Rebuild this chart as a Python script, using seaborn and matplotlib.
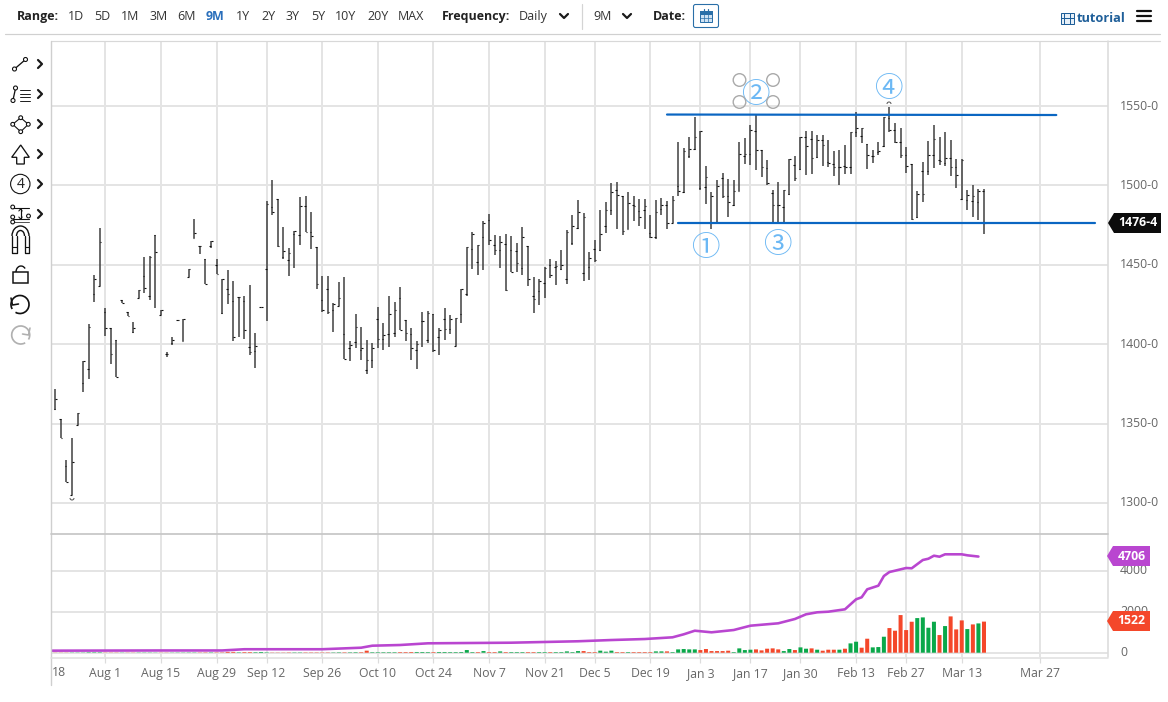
import numpy as np
import pandas as pd
import matplotlib
matplotlib.use("Agg")
import matplotlib.pyplot as plt
from matplotlib.patches import Arc, Circle, Polygon, Rectangle, FancyBboxPatch
import seaborn as sns

# ---------- data (bar 0 is clipped at the left edge) ----------
highs = [1383,
 1371.9,1353.2,1327,1340.9,1356.4,1389.4,1412.5,1443.5,1473.2,1422.8,
 1410.4,1402.8,1427.6,1420,1413.9,1434.3,1454.9,1455.3,1468.5,1421.7,
 1395.4,1404.3,1415,1415.8,1447.3,1478.8,1462,1453.6,1465.2,1453.6,
 1441,1446.9,1439.8,1429.7,1430.1,1437.2,1407,1423.6,1489.9,1503.6,
 1491.4,1473.8,1460.6,1471.5,1492.7,1493.5,1483.2,1461,1442.9,1442.9,
 1425.9,1439.1,1442.3,1401.8,1419,1410.8,1402.8,1400.7,1423.4,1413.3,
 1430.1,1426.5,1436,1415,1410.2,1401.8,1420,1420.6,1419.2,1410.2,
 1422.8,1418.6,1416.5,1434.9,1461.2,1470.6,1462.6,1477.3,1482,1468.5,
 1468.3,1469.6,1468.3,1463.7,1473.8,1462,1442.3,1441,1448.6,1453.6,
 1452.6,1459.5,1471.7,1481.1,1491,1482.6,1458,1465.4,1484.3,1489.3,
 1501.5,1502.1,1493.5,1495.6,1493.1,1491.4,1491.4,1481.1,1490.6,1492,
 1490.4,1493.5,1527,1523.5,1530.4,1543.3,1534.1,1512.4,1495.8,1503.2,
 1507.8,1504.2,1503.6,1527,1529.7,1537.7,1544.4,1522,1516.1,1496.9,
 1502.1,1497.3,1516.6,1518.6,1530.4,1534.3,1534.3,1531.8,1531.8,1528.7,
 1521.4,1522,1525.6,1533.9,1546,1536,1526.2,1522.4,1527,1543.3,
 1549.6,1539.2,1536,1524.1,1513.6,1496.3,1514.7,1528,1538.1,1530.4,
 1533.9,1528.3,1516.6,1516.6,1496.9,1500.4,1497.7,1497.9]
lows = [1382.6,
 1358.7,1340.9,1313.1,1305.2,1349,1370.2,1378.4,1426.3,1436.4,1404.9,
 1387.5,1379.3,1425.9,1417.9,1407,1429,1432,1427.6,1422.5,1418.6,
 1391.9,1399.7,1414.4,1402,1442,1466.9,1456.8,1437.7,1460.6,1444.2,
 1419,1425.5,1401.8,1404.3,1403.2,1393.4,1385.2,1423.2,1414.4,1481.6,
 1461.2,1453.6,1443.1,1447.9,1462.6,1470.4,1459.9,1434.7,1420.2,1419.2,
 1407.4,1423.8,1390.6,1389.2,1397.5,1390.2,1381.2,1385,1397.5,1396.5,
 1398.2,1404.3,1408.7,1402.2,1389.8,1384.7,1398.2,1400.7,1394.8,1393.1,
 1402.8,1406.6,1398.6,1413.3,1430.5,1447.3,1443.8,1446.9,1462.6,1456.3,
 1447.9,1433.5,1445.2,1445.6,1443.8,1436.4,1419.6,1424.4,1429,1441.7,
 1437,1446.5,1438.1,1462.6,1472.5,1439.6,1440.6,1451.7,1458.9,1470,
 1481.1,1472.7,1468.5,1472.5,1477.4,1474.2,1472.5,1466.9,1466.2,1481.6,
 1472.5,1476,1493.5,1495.2,1517.2,1522.4,1497.3,1488.5,1472.6,1476.8,
 1492.1,1479.9,1486.9,1496.3,1513.6,1513,1509.4,1505.3,1500.4,1476.4,
 1476.4,1476.4,1494.2,1502.5,1509.9,1506.7,1507.3,1517.2,1512,1511.5,
 1505.7,1500.4,1507.4,1507.4,1530.4,1526.6,1510.5,1514,1519.3,1524.1,
 1533.9,1526.6,1517.2,1507.8,1478,1479.5,1489.4,1506.7,1510.9,1513,
 1512,1505.7,1498.4,1491,1484.8,1479.9,1478,1469.5]
opens = [1383,
 1359.1,1353.2,1323,1305.2,1349,1375.5,1384.3,1431.6,1436.4,1420,
 1410.4,1402.8,1427.6,1420,1407.4,1429,1443.1,1430.1,1468.5,1418.6,
 1394,1400.7,1415,1402,1442,1466.9,1462,1453.6,1462,1450,
 1419.6,1434.7,1427,1429.7,1427,1398,1395.9,1423.4,1447.3,1486.2,
 1491.4,1454.7,1452.8,1469.4,1468.5,1486.8,1470.4,1461,1428,1434.7,
 1421.7,1424.2,1406.4,1397.5,1401.1,1396.5,1383.5,1389.8,1415.8,1403.4,
 1406.4,1407,1429,1415,1406.4,1396.5,1414.4,1402.8,1419.2,1404.5,
 1416,1409.5,1399,1419.2,1431.8,1459.9,1451.5,1467.5,1478.4,1462.2,
 1459.5,1463.3,1459.5,1458.4,1448,1461.6,1430.5,1433.2,1438.5,1450,
 1448.6,1447.3,1441,1463.7,1472.9,1444.8,1448.6,1459.9,1459.1,1474.2,
 1484.3,1497.3,1493.5,1472.7,1487.4,1483.7,1484.3,1470,1467.3,1485.1,
 1487.4,1476.4,1499.4,1495.8,1518.2,1522.8,1498.4,1499,1476.4,1476.8,
 1504.6,1493.1,1487.9,1496.7,1518.2,1519.7,1534.3,1522,1510.9,1495.2,
 1487.9,1486.4,1494.8,1513,1510.3,1530.4,1529.1,1517.6,1528.7,1514.5,
 1513.6,1511.5,1512,1511.5,1533.9,1531.2,1526.2,1518.2,1520.7,1524.5,
 1542.3,1535,1527.6,1519.3,1513.6,1479.9,1509.2,1509.2,1519.3,1516.1,
 1514,1517.2,1511.5,1491.4,1490.6,1490,1489.4,1496.3]
closes = [1383,
 1365.6,1340.9,1313.1,1325.9,1356.4,1389.4,1410.6,1441,1464.5,1410.4,
 1393.8,1379.3,1425.9,1417.9,1410.4,1433.9,1435.4,1454.9,1458.2,1421.7,
 1394,1402.8,1415,1415.8,1447.3,1470,1461.6,1438.1,1465.2,1444.4,
 1441,1431.6,1404.5,1429.7,1408.7,1394.8,1398.6,1423.4,1488.3,1483.2,
 1461.6,1458.9,1457.4,1471.5,1487.2,1470.8,1467.9,1437.9,1421.3,1420.2,
 1425.5,1429,1390.6,1399.6,1410.8,1397.5,1389.8,1397.5,1403.4,1405.5,
 1419.2,1421.7,1409.1,1407,1397.5,1400.3,1414.4,1419.6,1396.5,1409.1,
 1409.5,1416,1416.5,1434.9,1461.2,1469.4,1462.6,1476.3,1465.8,1459.5,
 1464.1,1434.3,1445.2,1451.1,1467.3,1441,1428.4,1439.6,1448,1443.8,
 1449,1450,1470.4,1474.2,1483.2,1480.1,1454.3,1453.2,1469.4,1484.3,
 1495.8,1493.7,1471,1488.9,1487.2,1480.1,1487.2,1467.5,1483.2,1487.9,
 1476.3,1490.6,1496.3,1521.4,1522.8,1530.4,1534.1,1505.3,1493.5,1499.4,
 1493.5,1489.4,1496.3,1519.7,1519.7,1535,1522.4,1511.5,1501.5,1487.9,
 1487.5,1497.3,1516.6,1504.6,1530.4,1525.1,1517.2,1528.7,1525.6,1514,
 1511.5,1511.5,1511.5,1533.9,1536,1536,1519.3,1518.2,1521.4,1543.3,
 1534.6,1527.6,1519.3,1512.4,1478.9,1494.8,1494.8,1519.3,1529.3,1515.1,
 1517.2,1511.5,1506.7,1516.1,1494.2,1493.5,1496.3,1476.5]

volume = [8,
 8,8,8,10,10,10,20,20,20,10, 10,10,8,8,8,10,10,10,8,8,
 8,8,10,10,12,12,12,15,15,15, 15,40,40,20,30,30,25,35,20,10,
 10,10,15,15,15,15,15,15,15,15, 15,20,20,20,25,25,100,25,25,25,
 25,25,30,30,35,35,35,30,30,35, 35,30,30,35,130,30,30,80,30,30,
 65,30,30,30,30,30,30,30,30,30, 30,30,65,30,80,
 80,30,30,100,50,100,30,30,30,30,30,30,30,65,65,65,30,163,180,163,
 163,130,180,80,80,80,98,30,212,130,147,163,114,196,212,163,80,180,130,
 261,196,212,147,98,147,147,147,196,456,538,245,685,261,277,782,1206,
 1076,1842,1108,1516,1695,1728,1222,1516,864,1304,1777,1141,1581,1157,1385,1434,1522]
# bars 96-168: g = green, r = red as seen; earlier bars follow the change in close
recent_colors = ("rrrgggrrgrrrrggrggggg" "rrrrrr" "gggg" "rrrrr" "ggr"
                 "ggrgrrrgrggrrgggrrrrrggggrgrrrgrgr")

oi_index = [0,20,31,35,49,56,58,63,68,83,95,101,107,112,114,116,119,123,126,131,134,136,138,140,
            143,145,146,147,149,150,151,152,154,155,157,158,159,160,161,164,165,167]
oi_values = [100,110,110,170,170,245,343,377,460,490,560,621,670,754,900,1077,998,1111,1322,1439,1650,1880,1977,2007,
             2124,2614,2712,3103,3280,3754,3950,4014,4146,4131,4537,4600,4748,4699,4816,4816,4767,4706]

date_ticks = [10,20,30,39,49,59,69,79,89,98,108,117,126,135,145,154,164,178]
date_labels = ["Aug 1","Aug 15","Aug 29","Sep 12","Sep 26","Oct 10","Oct 24","Nov 7","Nov 21",
               "Dec 5","Dec 19","Jan 3","Jan 17","Jan 30","Feb 13","Feb 27","Mar 13","Mar 27"]
price_ticks = [1300,1350,1400,1450,1500,1550]
price_labels = ["1300-0","1350-0","1400-0","1450-0","1500-0","1550-0"]
volume_ticks = [0,2000,4000]
resistance_x, resistance_y = [111,181], [1544.6,1544.3]
support_x, support_y = [113,188], [1476.0,1476.0]
wave_marks = [("①",117.8,1460.5),("②",126.8,1556.8),("③",130.8,1462.4),("④",150.8,1560.4)]
range_items = [("1D",68),("5D",94),("1M",121),("3M",149),("6M",177),("9M",206),("1Y",236),("2Y",261),
               ("3Y",286),("5Y",311),("10Y",335),("20Y",367),("MAX",398)]

# ---------- styling ----------
sns.set_theme(style="white")
plt.rcParams["font.family"] = ["Open Sans", "DejaVu Sans"]
W, H = 1168, 702
GRID = "#e4e4e4"; VGRID = "#dcdcdc"; TXT = "#666666"; DARK = "#333333"
GREEN = "#0aa84a"; RED = "#f4472a"; PURPLE = "#b946d0"; BLUE = "#0a66c2"; LBLUE = "#6cb8f4"
PX = 72/100  # points per pixel

fig = plt.figure(figsize=(W/100, H/100), dpi=100, facecolor="white")
def axes_px(l, t, r, b):
    return fig.add_axes([l/W, 1-b/H, (r-l)/W, (b-t)/H])
ax = axes_px(51, 41, 1108, 534)
ax2 = axes_px(51, 534, 1108, 657)

idx = np.arange(len(highs))
frame = pd.DataFrame({"i": idx, "high": highs, "low": lows, "open": opens, "close": closes, "volume": volume})
tick = 0.28
ax.vlines(frame["i"], frame["low"], frame["high"], color="#3c3c3c", lw=1.5*PX, zorder=3)
ax.hlines(frame["open"], frame["i"]-tick, frame["i"], color="#111111", lw=1.1*PX, zorder=3)
ax.hlines(frame["close"], frame["i"], frame["i"]+tick, color="#111111", lw=1.1*PX, zorder=3)

ax.plot(resistance_x, resistance_y, color=BLUE, lw=2.2*PX, zorder=4)
ax.plot(support_x, support_y, color=BLUE, lw=2.2*PX, zorder=4)
for s, xv, yv in wave_marks:
    ax.text(xv, yv, s, color=LBLUE, fontsize=20.5, ha="center", va="center", zorder=5,
            family=["Noto Sans CJK SC", "DejaVu Sans"])

# volume and open interest
early = np.where(np.diff(frame["close"].to_numpy(), prepend=closes[0]) < 0, "r", "g")[:96]
kinds = list(early) + list(recent_colors)
frame["kind"] = kinds[:len(frame)]
sns.barplot(data=frame, x="i", y="volume", hue="kind", palette={"g": GREEN, "r": RED}, native_scale=True,
            dodge=False, width=0.72, legend=False, ax=ax2, zorder=3, saturation=1)
for p in ax2.patches:
    p.set_snap(False)
    p.set_linewidth(0)
oi = pd.DataFrame({"i": oi_index, "oi": oi_values})
sns.lineplot(data=oi, x="i", y="oi", color=PURPLE, lw=2.6*PX, ax=ax2, zorder=4, errorbar=None)

for a in (ax, ax2):
    a.set_xlim(0.227, 190.3)
    a.set_xticks(date_ticks)
    a.grid(True, axis="x", color=VGRID, lw=1.5*PX, zorder=0)
    a.grid(True, axis="y", color=GRID, lw=2*PX, zorder=0)
    a.set_axisbelow(True)
    a.set_xlabel(""); a.set_ylabel("")
    for sp in a.spines.values():
        sp.set_visible(False)
ax.set_ylim(1280.5, 1590.9)
ax.set_yticks(price_ticks)
ax.set_yticklabels([])
ax.tick_params(left=False, right=False, bottom=False, labelbottom=False)
ax2.set_ylim(-210, 5810)
ax2.set_yticks(volume_ticks)
ax2.set_yticklabels([])
ax2.set_xticklabels(date_labels, color=TXT, fontsize=8.8)
ax2.tick_params(axis="x", length=4, width=1.2*PX, color=VGRID, pad=3, bottom=True, labelbottom=True)
ax2.tick_params(axis="y", left=False, right=False)

# ---------- overlay in pixel coordinates: header, toolbar, frame, tags ----------
ov = fig.add_axes([0, 0, 1, 1], zorder=10, facecolor="none")
ov.set_xlim(0, W); ov.set_ylim(H, 0); ov.axis("off")
ov.set_autoscale_on(False)

def line(xs, ys, c="#111111", w=1.3):
    ov.plot(xs, ys, color=c, lw=w*PX, solid_capstyle="round", solid_joinstyle="round", clip_on=False)
def txt(x, y, s, c=DARK, bold=False, size=9, ha="left"):
    ov.text(x, y, s, color=c, fontsize=size, fontweight="bold" if bold else "normal", ha=ha, va="center")
def ring(x, y, r, c="#111111", w=1.1, fc="white"):
    ov.add_patch(Circle((x, y), r, ec=c, fc=fc, lw=w*PX, zorder=6))
def chevron(x, y, down=False, w=2.2):
    if down:
        line([x-4, x, x+4], [y-2, y+2, y-2], "#1a1a1a", w)
    else:
        line([x-2, x+2, x-2], [y-4, y, y+4], "#1a1a1a", w)

# frame lines
line([5, 1160], [34, 34], "#d0d0d0", 1.2)
line([51, 1160], [40.5, 40.5], "#d8d8d8", 1.2)
line([51, 51], [41, 685], "#cfcfcf", 1.4)
line([1108, 1108], [41, 657], "#dcdcdc", 1.6)
line([51, 1108], [534, 534], "#c8c8c8", 1.8)
line([51, 1108], [657.5, 657.5], "#dedede", 1.5)

# header
txt(17, 16.5, "Range:", "#222222", True)
for s, x in range_items:
    if s == "9M":
        txt(x, 16.5, s, "#2a6fbb", True)
    else:
        txt(x, 16.5, s, DARK)
txt(442, 16.5, "Frequency:", "#222222", True)
txt(519, 16.5, "Daily", DARK)
chevron(564, 16, True)
line([582, 582], [4, 29], "#d4d4d4", 1.2)
txt(593, 16.5, "9M", DARK)
chevron(627, 16, True)
txt(653, 16.5, "Date:", "#222222", True)
ov.add_patch(FancyBboxPatch((693.5, 4.5), 25, 23, boxstyle="round,pad=0,rounding_size=2", ec="#2a6fa8", fc="white", lw=1.1*PX))
ov.add_patch(Rectangle((700, 10.5), 12, 11, ec="#2a6fa8", fc="#cfe2f3", lw=1*PX))
ov.add_patch(Rectangle((700, 10.5), 12, 3, ec="#2a6fa8", fc="#2a6fa8", lw=1*PX))
for gx in (704, 708):
    line([gx, gx], [13, 21.5], "#2a6fa8", .7)
    line([gx, gx], [8.5, 11.5], "#2a6fa8", 1.2)
line([700, 712], [17.5, 17.5], "#2a6fa8", .7)
txt(1077, 18, "tutorial", "#1f5f99", True, 9.2)
ov.add_patch(Rectangle((1060.5, 12.5), 13, 11, ec="#1f5f99", fc="#e7f0f8", lw=1*PX))
for gx in (1064, 1070):
    line([gx, gx], [12.5, 23.5], "#1f5f99", 1)
line([1060.5, 1073.5], [18, 18], "#1f5f99", 1)
for hy in (10.5, 15.5, 20.5):
    line([1136.5, 1150.5], [hy, hy], "#111111", 2.2)

# toolbar
TOOL = "#111111"
line([14.5, 25.5], [69, 59.5], TOOL)
ring(14.5, 69, 2); ring(25.5, 59.5, 2)
chevron(40, 64)
line([13, 15.5], [100, 88.5], TOOL)
ring(13, 100.5, 2); ring(15.5, 88, 2)
for yy in (90, 93.5, 97, 100.5):
    line([19.5, 30], [yy, yy], "#222222", 1)
chevron(40, 94)
ov.add_patch(Polygon([(12.7,124.3),(20.7,117.7),(28.3,124.3),(20.7,131.7)], closed=True, ec=TOOL, fc="none", lw=1.1*PX, joinstyle="round"))
for p in [(12.7,124.3),(20.7,117.7),(28.3,124.3),(20.7,131.7)]:
    ring(p[0], p[1], 1.9)
chevron(40, 124)
ov.add_patch(Polygon([(20.7,145),(11.7,157.3),(16.7,157.3),(16.7,164),(24.3,164),(24.3,157.3),(29.3,157.3)],
                     closed=True, ec=TOOL, fc="white", lw=1.3*PX))
chevron(40, 154)
ring(20.3, 184, 9.7)
ov.text(20.3, 184, "4", color="#222222", fontsize=10, ha="center", va="center", zorder=7)
chevron(40, 184)
line([13, 29], [208, 208], TOOL, 1.1)
line([13, 29], [219, 219], TOOL, 1.1)
line([13, 29], [222, 222], "#555555", 1)
line([20.5, 20.5], [209, 219], TOOL, 1.2)
line([18.8, 20.5, 22.2], [211, 209, 211], TOOL, 1)
line([18.8, 20.5, 22.2], [217, 219, 217], TOOL, 1)
for p in [(12.7,207),(28.5,216),(12.7,217),(12.7,222)]:
    ring(p[0], p[1], 1.9)
chevron(40, 214)
# magnet
ov.add_patch(Arc((20.5, 236), 17, 20, theta1=180, theta2=360, ec=TOOL, lw=1.4*PX))
ov.add_patch(Arc((20.5, 236), 8, 11, theta1=180, theta2=360, ec=TOOL, lw=1.4*PX))
line([12, 12, 16.5, 16.5], [236, 253, 253, 236], TOOL)
line([24.5, 24.5, 29, 29], [236, 253, 253, 236], TOOL)
line([12, 16.5], [247, 247], TOOL, 1.1); line([24.5, 29], [247, 247], TOOL, 1.1)
# lock (open shackle)
ov.add_patch(Rectangle((12.7, 272), 15.6, 11.3, ec=TOOL, fc="white", lw=1.5*PX))
ov.add_patch(Arc((21, 272), 10, 12, theta1=180, theta2=320, ec=TOOL, lw=1.4*PX))
# undo / redo
ov.add_patch(Arc((20, 304.5), 18, 18, theta1=-210, theta2=120, ec=TOOL, lw=1.7*PX))
line([11, 12.5, 18.5], [298, 305, 304], TOOL, 1.6)
ov.add_patch(Arc((20.7, 335), 18, 18, theta1=60, theta2=390, ec="#b0b0b0", lw=1.7*PX))
line([30, 28.5, 22.5], [328, 335, 334], "#b0b0b0", 1.6)

# selection handles and tiny handles
for hx, hy in [(739.5,80),(773,80),(739.5,102),(773,102)]:
    ring(hx, hy, 6.3, "#aaaaaa", 1.4, "none")
ov.add_patch(Arc((889, 104), 4, 4, theta1=180, theta2=360, ec="#555555", lw=1*PX))
ov.add_patch(Arc((72, 498), 4, 4, theta1=0, theta2=180, ec="#555555", lw=1*PX))

# axis labels on the right
for p, s in zip(price_ticks, price_labels):
    yy = 106 + (1550-p)*1.588
    txt(1120, yy, s, TXT, size=8.8)
for v in volume_ticks:
    txt(1120, 652.7 - v*0.02043, str(v), TXT, size=8.8)
txt(52, 673, "18", TXT, size=8.8)

def tag(yc, x0, x1, c, s, h=10):
    ov.add_patch(Polygon([(x0, yc), (x0+6, yc-h), (x1, yc-h), (x1, yc+h), (x0+6, yc+h)], closed=True, fc=c, ec="none", zorder=8))
    ov.text((x0+x1)/2+3, yc, s, color="white", fontsize=8.8, fontweight="bold", ha="center", va="center", zorder=9)
tag(223, 1108, 1161, "#0c0c0c", "1476-4")
tag(556, 1107, 1150, PURPLE, "4706")
tag(621, 1107, 1150, RED, "1522")

fig.savefig("out.png", dpi=100, facecolor="white")
